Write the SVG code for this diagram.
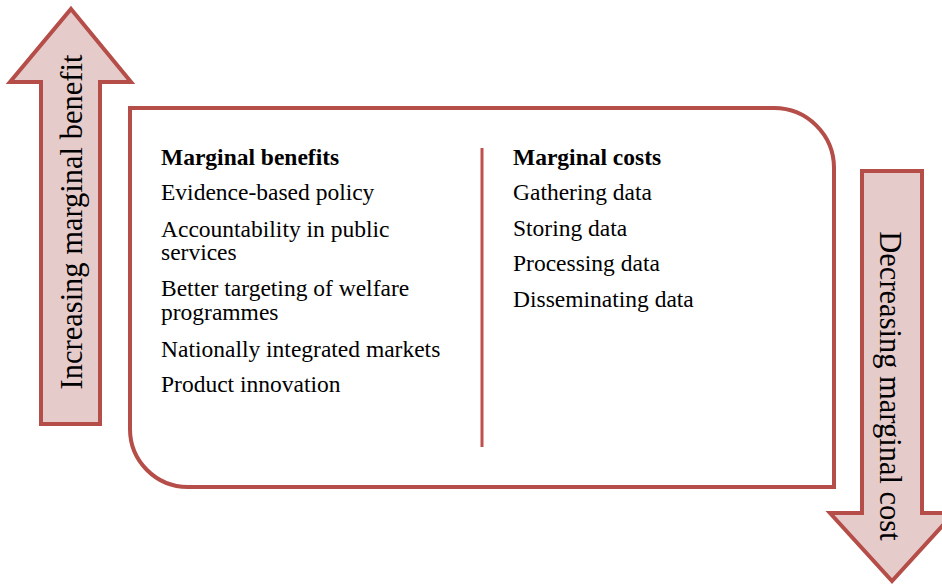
<svg xmlns="http://www.w3.org/2000/svg" width="942" height="586" viewBox="0 0 942 586">
<style>
.arrow{fill:#e6cbcb;stroke:#b54d49;stroke-width:4;stroke-linejoin:miter}
.frame{fill:#ffffff;stroke:#b54d49;stroke-width:4}
.t{font-family:"Liberation Serif","Times New Roman",serif;font-size:23.5px;fill:#000}
.b{font-weight:bold}
.big{font-family:"Liberation Serif","Times New Roman",serif;font-size:30.5px;fill:#000}
</style>
<rect width="942" height="586" fill="#ffffff"/>
<g id="up-arrow">
<polygon class="arrow" points="71,9 131,82 100,82 100,424 41,424 41,82 10,82"/>
<text class="big" transform="translate(82,222) rotate(-90)" text-anchor="middle">Increasing marginal benefit</text>
</g>
<g id="down-arrow">
<polygon class="arrow" points="862,171 922,171 922,513 954,513 892,581 830,513 862,513"/>
<text class="big" transform="translate(880,386) rotate(90)" text-anchor="middle">Decreasing marginal cost</text>
</g>
<g id="frame">
<path class="frame" d="M130,108 H774 A60,60 0 0 1 834,168 V487 H188 A58,58 0 0 1 130,429 Z"/>
</g>
<g id="connectors">
<line x1="482" y1="148" x2="482" y2="447" stroke="#c0504d" stroke-width="3"/>
</g>
<g id="benefits">
<text class="t b" x="161" y="165">Marginal benefits</text>
<text class="t" x="161" y="200">Evidence-based policy</text>
<text class="t" x="161" y="237">Accountability in public</text>
<text class="t" x="161" y="260">services</text>
<text class="t" x="161" y="296">Better targeting of welfare</text>
<text class="t" x="161" y="320">programmes</text>
<text class="t" x="161" y="357">Nationally integrated markets</text>
<text class="t" x="161" y="392">Product innovation</text>
</g>
<g id="costs">
<text class="t b" x="513" y="165">Marginal costs</text>
<text class="t" x="513" y="200">Gathering data</text>
<text class="t" x="513" y="236">Storing data</text>
<text class="t" x="513" y="271">Processing data</text>
<text class="t" x="513" y="307">Disseminating data</text>
</g>
</svg>
